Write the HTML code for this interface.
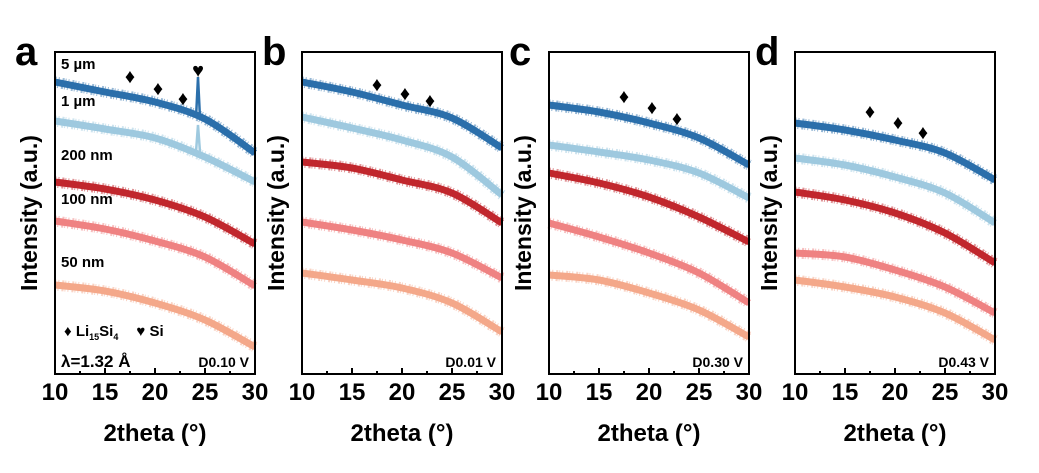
<!DOCTYPE html>
<html><head><meta charset="utf-8"><style>
body{margin:0;background:#fff;width:1039px;height:468px;overflow:hidden}
svg text{font-family:"Liberation Sans",Arial,sans-serif;font-weight:bold;fill:#000}
</style></head><body>
<svg id="c" width="1039" height="468"></svg>
<script>
// 2theta sample positions
const xs=[10,15,20,25,30];
// intensities (a.u.) per panel, series order: 5um,1um,200nm,100nm,50nm
const panelA=[[298,288,278,261,227],[259,251,242,223,198],[198,191,180,163,136],[159,151,139,123,94],[95,89,77,60,33]];
const panelB=[[298,288,275,262,232],[263,252,240,223,185],[218,212,200,187,157],[158,150,140,127,102],[107,100,92,77,48]];
const panelC=[[275,268,257,242,215],[235,228,220,207,182],[207,197,183,163,138],[157,143,127,107,77],[105,100,87,70,43]];
const panelD=[[257,250,240,227,200],[222,215,203,187,157],[188,180,167,147,117],[127,123,110,93,67],[100,93,83,67,40]];
const colors=["#2b6fab","#9ec9df","#c1272d","#ef8282","#f4a88a"];
const seriesNames=["5-um","1-um","200-nm","100-nm","50-nm"];
const diamondX=[17.5,20.3,22.8];
const diamondA=[304,292,282], diamondB=[296,287,280], diamondC=[284,273,262], diamondD=[269,258,248];
const xTicks=[10,15,20,25,30];
const panels=[
 {id:"a",x0:55,data:panelA,dia:diamondA,tag:"D0.10 V"},
 {id:"b",x0:302,data:panelB,dia:diamondB,tag:"D0.01 V"},
 {id:"c",x0:549,data:panelC,dia:diamondC,tag:"D0.30 V"},
 {id:"d",x0:795,data:panelD,dia:diamondD,tag:"D0.43 V"}];
const NS="http://www.w3.org/2000/svg",svg=document.getElementById("c");
const plotTop=52,plotBot=374,W=200;
function el(t,a,p){const e=document.createElementNS(NS,t);for(const k in a)e.setAttribute(k,a[k]);(p||svg).appendChild(e);return e;}
const yS=v=>380-v;
function smooth(p){
 let d=`M${p[0][0]},${p[0][1]}`;
 for(let i=0;i<p.length-1;i++){
  const p0=p[Math.max(0,i-1)],p1=p[i],p2=p[i+1],p3=p[Math.min(p.length-1,i+2)];
  const c1=[p1[0]+(p2[0]-p0[0])/6,p1[1]+(p2[1]-p0[1])/6],c2=[p2[0]-(p3[0]-p1[0])/6,p2[1]-(p3[1]-p1[1])/6];
  d+=` C${c1[0]},${c1[1]} ${c2[0]},${c2[1]} ${p2[0]},${p2[1]}`;
 }
 return d;
}
panels.forEach(P=>{
 const xS=x=>P.x0+(x-10)/20*W;
 const g=el("g",{});
 
 
 P.data.forEach((s,i)=>{
  const pts=s.map((v,j)=>[xS(xs[j]),yS(v)]);
  const l=el("path",{d:smooth(pts),fill:"none",stroke:colors[i],"stroke-width":7,"stroke-linecap":"butt"},g);
  
  
  const n=el("path",{d:smooth(pts),fill:"none",stroke:colors[i],"stroke-width":11,"stroke-dasharray":"1 2 1 3 2 1","opacity":0.5},g);
  
  
 });
 if(P.id==="a"){
  const sp=el("polyline",{points:`${xS(24.1)},${yS(262)} ${xS(24.3)},${yS(303)} ${xS(24.5)},${yS(262)}`,fill:"none",stroke:colors[0],"stroke-width":2.5},g);
  
  
  const sp2=el("polyline",{points:`${xS(24.1)},${yS(228)} ${xS(24.3)},${yS(255)} ${xS(24.5)},${yS(228)}`,fill:"none",stroke:colors[1],"stroke-width":2.5},g);
  
  
  const h=el("text",{x:xS(24.3),y:77,"font-size":20,"text-anchor":"middle"},g);h.textContent="♥";
  
  
 }
 diamondX.forEach((dx,k)=>{
  const t=el("text",{x:xS(dx),y:yS(P.dia[k])+7,"font-size":20,"text-anchor":"middle"},g);t.textContent="♦";
  
  
 });
 const fr=el("rect",{x:P.x0,y:plotTop,width:W,height:plotBot-plotTop,fill:"none",stroke:"#000","stroke-width":2},g);
 
 
 for(let x=10;x<=30;x+=2.5){const len=(x%5===0)?6:3;el("line",{x1:xS(x),x2:xS(x),y1:plotBot,y2:plotBot-len,stroke:"#000","stroke-width":2},g);}
 xTicks.forEach(x=>{const t=el("text",{x:xS(x),y:400,"font-size":24,"text-anchor":"middle"},g);t.textContent=x;
  
  });
 const xt=el("text",{x:P.x0+W/2,y:441,"font-size":24,"text-anchor":"middle"},g);xt.textContent="2theta (°)";
 
 
 const yt=el("text",{x:0,y:0,"font-size":23,"text-anchor":"middle",transform:`translate(${P.x0-18},213) rotate(-90)`},g);yt.textContent="Intensity (a.u.)";
 
 
 const lt=el("text",{x:P.x0-40,y:65,"font-size":40},g);lt.textContent=P.id;
 
 
 const tg=el("text",{x:P.x0+W-6,y:367,"font-size":14,"text-anchor":"end"},g);tg.textContent=P.tag;
 
 
});
[["5 µm",69],["1 µm",106],["200 nm",160],["100 nm",204],["50 nm",267]].forEach(a=>{
 const t=el("text",{x:61,y:a[1],"font-size":15});t.textContent=a[0];
 
 
});
const lg=el("text",{x:64,y:336,"font-size":15});


lg.innerHTML='♦ Li<tspan font-size="9" dy="4">15</tspan><tspan dy="-4">Si</tspan><tspan font-size="9" dy="4">4</tspan><tspan dy="-4" dx="18">♥ Si</tspan>';
const wl=el("text",{x:61,y:367,"font-size":17});wl.textContent="λ=1.32 Å";


</script>
</body></html>
